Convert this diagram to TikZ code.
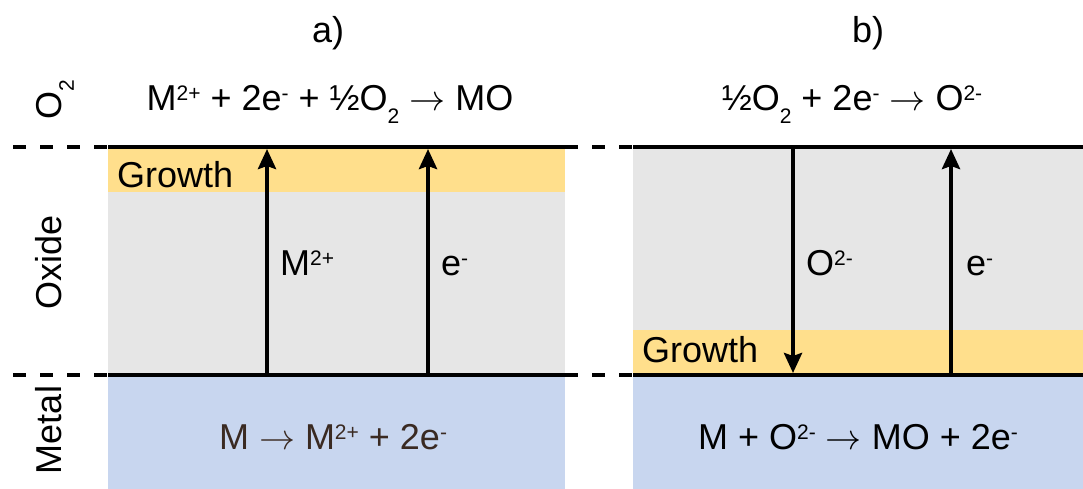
\documentclass[tikz,border=0pt]{standalone}
\usepackage{fix-cm}
\usepackage{fontspec}
\setmainfont{Liberation Sans}
\usetikzlibrary{arrows.meta}
\definecolor{growthc}{HTML}{FFDF8C}
\definecolor{oxidec}{HTML}{E6E6E6}
\definecolor{metalc}{HTML}{C8D6EF}
\definecolor{browntxt}{HTML}{3A2A22}
\newcommand\spr[1]{\raisebox{10pt}{\fontsize{21}{22}\selectfont #1}}
\newcommand\sbs[1]{\raisebox{-0.36em}{\fontsize{21}{22}\selectfont #1}}
\newcommand\rarr{\ensuremath{\rightarrow}}
\tikzset{
  lbl/.style={inner sep=0pt, anchor=base},
  lbll/.style={inner sep=0pt, anchor=base west},
  side/.style={inner sep=0pt, anchor=base, rotate=90},
  iface/.style={line width=4pt},
  ifacedash/.style={line width=4pt, dash pattern=on 13pt off 14pt},
  flux/.style={line width=4pt, -{Stealth[length=20pt,width=18pt,inset=3pt]}},
}
\begin{document}
\begin{tikzpicture}[x=1pt,y=-1pt,font=\fontsize{36}{40}\selectfont]
\fill[white] (0,0) rectangle (1083,489);
\useasboundingbox (0,0) rectangle (1083,489);
% panel a
\fill[oxidec] (108,147) rectangle (565,375);
\fill[growthc] (108,147) rectangle (565,192);
\fill[metalc] (108,375) rectangle (565,489);
% panel b
\fill[oxidec] (633,147) rectangle (1083,375);
\fill[growthc] (633,330) rectangle (1083,375);
\fill[metalc] (633,375) rectangle (1083,489);
% interfaces
\coordinate (tl0) at (13,147);
\coordinate (tl1) at (108,147);
\coordinate (tl2) at (565,147);
\coordinate (tl3) at (633,147);
\coordinate (tl4) at (1083,147);
\coordinate (bl0) at (13,375);
\coordinate (bl1) at (108,375);
\coordinate (bl2) at (565,375);
\coordinate (bl3) at (633,375);
\coordinate (bl4) at (1083,375);
\draw[ifacedash] (tl0) -- (tl1);
\draw[iface] (tl1) -- (tl2);
\draw[ifacedash] (tl2) -- (tl3);
\draw[iface] (tl3) -- (tl4);
\draw[ifacedash] (bl0) -- (bl1);
\draw[iface] (bl1) -- (bl2);
\draw[ifacedash] (bl2) -- (bl3);
\draw[iface] (bl3) -- (bl4);
% arrows
\coordinate (a1b) at (267,375);
\coordinate (a1t) at (267,149);
\coordinate (a2b) at (428,375);
\coordinate (a2t) at (428,149);
\coordinate (b1t) at (793,147);
\coordinate (b1b) at (793,373);
\coordinate (b2b) at (951,375);
\coordinate (b2t) at (951,149);
\draw[flux] (a1b) -- (a1t);
\draw[flux] (a2b) -- (a2t);
\draw[flux] (b1t) -- (b1b);
\draw[flux] (b2b) -- (b2t);
% titles
\node[lbl] (ta) at (328,43) {a)};
\node[lbl] (tb) at (868,43) {b)};
% side labels
\node[side] (so2) at (61,100) {O\sbs{2}};
\node[side] (sox) at (61,262) {Oxide};
\node[side] (sme) at (61,430) {Metal};
% equations
\node[lbl] (eqa) at (330,111) {M\spr{2+} + 2e\spr{-} + ½O\sbs{2} \rarr{} MO};
\node[lbl] (eqb) at (852,111) {½O\sbs{2} + 2e\spr{-} \rarr{} O\spr{2-}};
\node[lbl, text=browntxt] (ma) at (333,449) {M \rarr{} M\spr{2+} + 2e\spr{-}};
\node[lbl] (mb) at (858,449) {M + O\spr{2-} \rarr{} MO + 2e\spr{-}};
% growth labels
\node[lbll] (ga) at (117,187) {Growth};
\node[lbll] (gb) at (642,362) {Growth};
% flux labels
\node[lbll] (la1) at (280,275) {M\spr{2+}};
\node[lbll] (la2) at (441,275) {e\spr{-}};
\node[lbll] (lb1) at (806,275) {O\spr{2-}};
\node[lbll] (lb2) at (966,275) {e\spr{-}};
\end{tikzpicture}
\end{document}
